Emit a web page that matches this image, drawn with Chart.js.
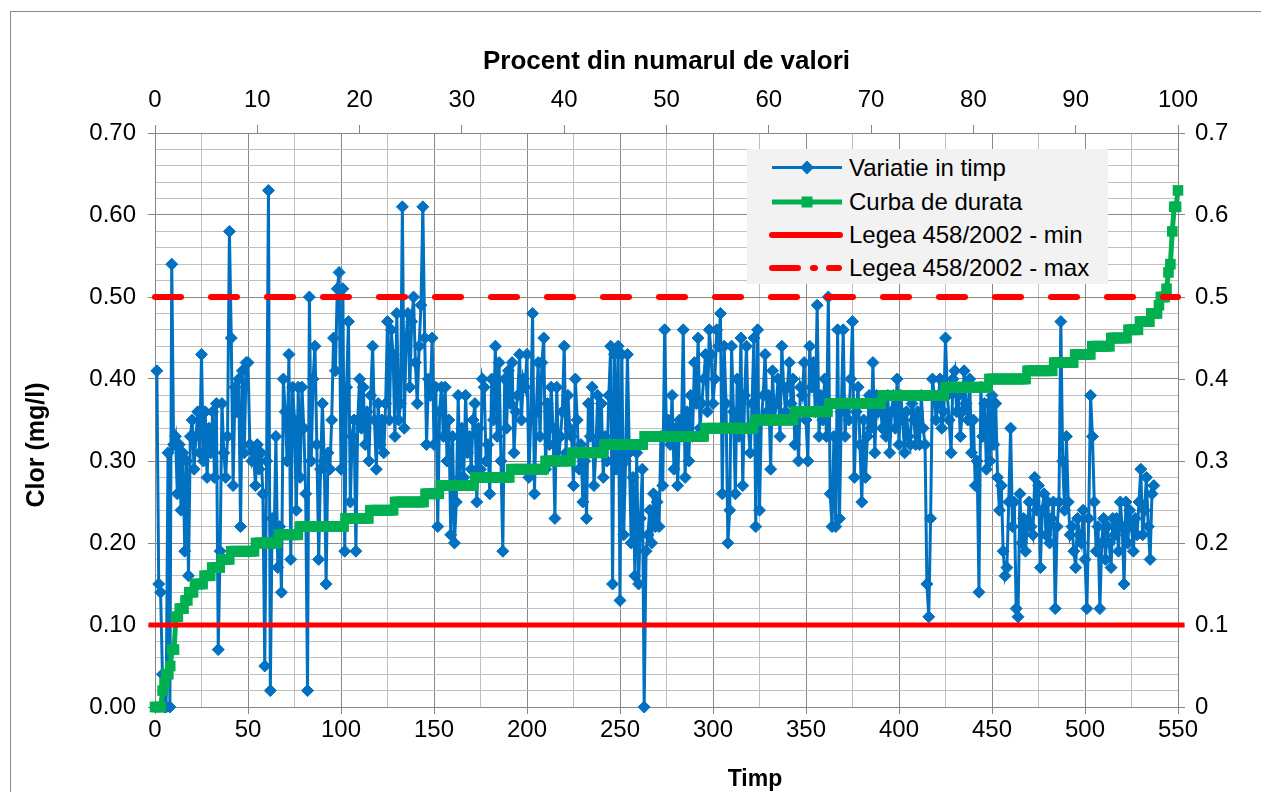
<!DOCTYPE html>
<html>
<head>
<meta charset="utf-8">
<script src="https://cdn.jsdelivr.net/npm/chart.js@4.4.1/dist/chart.umd.min.js"></script>
<style>
  html, body { margin: 0; padding: 0; background: #fff; overflow: hidden; }
  #wrap { position: relative; width: 1261px; height: 792px; font-family: 'Liberation Sans', Arial, sans-serif; }
  #frame { position: absolute; left: 10px; top: 11px; width: 1270px; height: 820px; border: 1.5px solid #8a8a8a; box-sizing: border-box; }
  #c { position: absolute; left: 0; top: 0; }
  #legend { position: absolute; left: 747px; top: 149px; width: 361px; height: 135px; background: #F2F2F2; font-size: 24px; color: #000; }
  #legend svg { position: absolute; left: 0; top: 0; }
  #legend .lt { position: absolute; left: 102px; line-height: 28px; white-space: nowrap; }
  .axt { position: absolute; font-weight: bold; color: #000; white-space: nowrap; line-height: 30px; text-align: center; }
  #xt { left: 655px; top: 763px; width: 200px; font-size: 23px; }
  #yt { left: -65px; top: 430px; width: 200px; font-size: 25px; transform: rotate(-90deg); transform-origin: 100px 15px; }
</style>
</head>
<body>
<div id="wrap">
  <div id="frame"></div>
  <canvas id="c" width="1261" height="792"></canvas>
  <div id="legend">
    <svg width="361" height="135">
      <line x1="25" y1="18.5" x2="95" y2="18.5" stroke="#0070C0" stroke-width="3"/>
      <polygon points="60,11.5 67,18.5 60,25.5 53,18.5" fill="#0070C0"/>
      <line x1="25" y1="53" x2="95" y2="53" stroke="#00B050" stroke-width="5"/>
      <rect x="54.5" y="47.5" width="11" height="11" fill="#00B050"/>
      <line x1="25" y1="86" x2="93" y2="86" stroke="#FF0000" stroke-width="6" stroke-linecap="round"/>
      <line x1="25" y1="119" x2="51" y2="119" stroke="#FF0000" stroke-width="6" stroke-linecap="round"/>
      <line x1="66" y1="119" x2="68" y2="119" stroke="#FF0000" stroke-width="6" stroke-linecap="round"/>
      <line x1="82" y1="119" x2="92" y2="119" stroke="#FF0000" stroke-width="6" stroke-linecap="round"/>
    </svg>
    <div class="lt" style="top:4.5px">Variatie in timp</div>
    <div class="lt" style="top:39px">Curba de durata</div>
    <div class="lt" style="top:72px">Legea 458/2002 - min</div>
    <div class="lt" style="top:105px">Legea 458/2002 - max</div>
  </div>
  <div id="xt" class="axt">Timp</div>
  <div id="yt" class="axt">Clor (mg/l)</div>
</div>
<script>
// ---- data ----
const xTitle = 'Timp';
const x2Title = 'Procent din numarul de valori';
const yTitle = 'Clor (mg/l)';

// Variatie in timp: one value per time step (1..537)
const variatieInTimp = [
  0.41,0.15,0.14,0.04,0.00,0.00,0.31,0.00,0.54,0.32,
  0.33,0.26,0.32,0.24,0.31,0.19,0.30,0.16,0.33,0.35,
  0.29,0.33,0.36,0.31,0.43,0.30,0.36,0.28,0.34,0.31,
  0.36,0.28,0.37,0.07,0.19,0.37,0.31,0.28,0.33,0.58,
  0.45,0.27,0.39,0.36,0.40,0.22,0.41,0.31,0.42,
  0.42,0.32,0.30,0.31,0.27,0.32,0.29,0.31,0.26,0.05,
  0.30,0.63,0.02,0.23,0.20,0.33,0.17,0.22,0.14,0.40,
  0.36,0.30,0.43,0.18,0.39,0.35,0.24,0.39,0.28,0.39,
  0.34,0.26,0.02,0.50,0.30,0.40,0.44,0.32,0.18,0.29,
  0.37,0.30,0.15,0.31,0.29,0.35,0.45,0.41,0.51,
  0.53,0.29,0.51,0.19,0.39,0.47,0.25,0.33,0.35,0.19,
  0.35,0.40,0.34,0.39,0.32,0.36,0.30,0.38,0.44,0.35,
  0.29,0.37,0.32,0.35,0.31,0.37,0.47,0.35,0.46,0.43,
  0.33,0.48,0.35,0.37,0.61,0.34,0.45,0.48,0.39,0.47,
  0.50,0.42,0.37,0.44,0.49,0.61,0.45,0.32,0.40,0.38,
  0.45,0.32,0.39,0.22,0.36,0.39,0.33,0.39,0.30,0.35,
  0.21,0.33,0.20,0.25,0.38,0.28,0.34,0.28,0.38,0.31,
  0.33,0.29,0.35,0.37,0.25,0.34,0.29,0.40,0.39,0.30,
  0.32,0.26,0.40,0.35,0.44,0.33,0.42,0.30,0.19,0.40,
  0.34,0.41,0.37,0.42,0.31,0.36,0.38,0.43,0.35,0.40,
  0.39,0.43,0.28,0.35,0.48,0.26,0.36,0.42,0.33,0.42,
  0.45,0.29,0.37,0.32,0.39,0.34,0.23,0.39,0.30,0.33,
  0.36,0.44,0.31,0.38,0.34,0.33,0.27,0.40,0.35,0.29,
  0.32,0.25,0.30,0.23,0.37,0.33,0.39,0.27,0.31,0.38,
  0.32,0.37,0.28,0.33,0.30,0.38,0.44,0.15,0.43,0.29,
  0.44,0.13,0.43,0.21,0.30,0.43,0.31,0.20,0.28,0.16,
  0.31,0.15,0.23,0.29,0.00,0.19,0.21,0.24,0.20,0.26,
  0.22,0.25,0.22,0.33,0.27,0.46,0.33,0.35,0.32,0.38,
  0.29,0.34,0.27,0.35,0.33,0.46,0.28,0.36,0.30,0.38,
  0.33,0.42,0.37,0.45,0.34,0.37,0.40,0.43,0.36,0.46,
  0.43,0.37,0.40,0.46,0.44,0.48,0.26,0.44,0.37,0.20,
  0.24,0.44,0.36,0.26,0.40,0.33,0.45,0.27,0.38,0.44,
  0.34,0.31,0.37,0.45,0.22,0.46,0.24,0.35,0.38,0.43,
  0.36,0.38,0.29,0.41,0.35,0.37,0.40,0.33,0.44,0.39,
  0.36,0.39,0.42,0.37,0.40,0.32,0.36,0.30,0.39,0.38,
  0.42,0.35,0.30,0.44,0.39,0.42,0.36,0.49,0.33,0.38,
  0.35,0.40,0.33,0.50,0.26,0.22,0.33,0.22,0.46,0.23,
  0.36,0.46,0.33,0.37,0.35,0.40,0.47,0.28,0.36,0.39,
  0.32,0.25,0.35,0.28,0.33,0.38,0.34,0.42,0.31,0.38,
  0.36,0.37,0.34,0.36,0.33,0.38,0.31,0.36,0.38,0.34,
  0.40,0.32,0.38,0.35,0.31,0.36,0.33,0.32,0.37,0.35,
  0.32,0.36,0.32,0.38,0.34,0.32,0.15,0.11,0.23,0.40,
  0.38,0.35,0.37,0.40,0.34,0.36,0.45,0.38,0.35,0.31,
  0.40,0.41,0.36,0.38,0.33,0.36,0.41,0.37,0.35,0.40,
  0.31,0.35,0.27,0.30,0.14,0.39,0.33,0.37,0.29,0.37,
  0.30,0.38,0.32,0.37,0.28,0.24,0.27,0.19,0.16,0.17,
  0.25,0.34,0.22,0.25,0.12,0.11,0.26,0.20,0.23,0.19,
  0.22,0.25,0.22,0.21,0.28,0.24,0.27,0.17,0.24,0.26,
  0.21,0.25,0.20,0.23,0.25,0.12,0.22,0.25,0.47,0.30,
  0.24,0.33,0.25,0.21,0.22,0.19,0.17,0.23,0.21,0.20,
  0.24,0.18,0.12,0.23,0.38,0.33,0.25,0.19,0.22,0.12,
  0.20,0.23,0.18,0.22,0.20,0.17,0.23,0.21,0.23,0.19,
  0.25,0.22,0.15,0.25,0.20,0.24,0.22,0.19,0.23,0.21,
  0.25,0.29,0.21,0.24,0.28,0.22,0.18,0.26,0.27
];

// Curba de durata: values in increasing order, spread over 0..100 % (top axis)
const curbaDeDurata = [
  0.00,0.00,0.00,0.00,0.02,0.03,0.04,0.04,0.05,0.07,0.07,
  0.11,0.11,0.12,0.12,0.12,0.13,0.13,0.14,0.14,0.14,
  0.15,0.15,0.15,0.15,0.15,
  0.16,0.16,0.16,0.16,
  0.17,0.17,0.17,0.17,0.17,
  0.18,0.18,0.18,0.18,0.18,
  0.19,0.19,0.19,0.19,0.19,0.19,0.19,0.19,0.19,0.19,0.19,0.19,0.19,
  0.20,0.20,0.20,0.20,0.20,0.20,0.20,0.20,0.20,0.20,0.20,0.20,
  0.21,0.21,0.21,0.21,0.21,0.21,0.21,0.21,0.21,0.21,0.21,
  0.22,0.22,0.22,0.22,0.22,0.22,0.22,0.22,0.22,0.22,0.22,0.22,
  0.22,0.22,0.22,0.22,0.22,0.22,0.22,0.22,0.22,0.22,0.22,0.22,
  0.23,0.23,0.23,0.23,0.23,0.23,0.23,0.23,0.23,0.23,0.23,0.23,0.23,
  0.24,0.24,0.24,0.24,0.24,0.24,0.24,0.24,0.24,0.24,0.24,0.24,0.24,
  0.25,0.25,0.25,0.25,0.25,0.25,0.25,0.25,
  0.25,0.25,0.25,0.25,0.25,0.25,0.25,0.25,
  0.26,0.26,0.26,0.26,0.26,0.26,0.26,0.26,
  0.27,0.27,0.27,0.27,0.27,0.27,0.27,0.27,0.27,
  0.27,0.27,0.27,0.27,0.27,0.27,0.27,0.27,0.27,
  0.28,0.28,0.28,0.28,0.28,0.28,0.28,0.28,0.28,0.28,
  0.28,0.28,0.28,0.28,0.28,0.28,0.28,0.28,0.28,
  0.29,0.29,0.29,0.29,0.29,0.29,0.29,0.29,0.29,
  0.29,0.29,0.29,0.29,0.29,0.29,0.29,0.29,0.29,
  0.30,0.30,0.30,0.30,0.30,0.30,0.30,
  0.30,0.30,0.30,0.30,0.30,0.30,0.30,
  0.31,0.31,0.31,0.31,0.31,0.31,0.31,0.31,0.31,
  0.31,0.31,0.31,0.31,0.31,0.31,0.31,0.31,
  0.32,0.32,0.32,0.32,0.32,0.32,0.32,0.32,0.32,0.32,0.32,
  0.32,0.32,0.32,0.32,0.32,0.32,0.32,0.32,0.32,0.32,
  0.33,0.33,0.33,0.33,0.33,0.33,0.33,0.33,0.33,0.33,0.33,
  0.33,0.33,0.33,0.33,0.33,0.33,0.33,0.33,0.33,0.33,0.33,
  0.33,0.33,0.33,0.33,0.33,0.33,0.33,0.33,0.33,0.33,
  0.34,0.34,0.34,0.34,0.34,0.34,0.34,0.34,0.34,0.34,0.34,0.34,0.34,
  0.34,0.34,0.34,0.34,0.34,0.34,0.34,0.34,0.34,0.34,0.34,0.34,0.34,
  0.35,0.35,0.35,0.35,0.35,0.35,0.35,0.35,0.35,0.35,0.35,
  0.35,0.35,0.35,0.35,0.35,0.35,0.35,0.35,0.35,0.35,
  0.36,0.36,0.36,0.36,0.36,0.36,0.36,0.36,0.36,
  0.36,0.36,0.36,0.36,0.36,0.36,0.36,0.36,0.36,
  0.37,0.37,0.37,0.37,0.37,0.37,0.37,0.37,0.37,0.37,0.37,0.37,0.37,0.37,
  0.37,0.37,0.37,0.37,0.37,0.37,0.37,0.37,0.37,0.37,0.37,0.37,0.37,0.37,
  0.38,0.38,0.38,0.38,0.38,0.38,0.38,0.38,0.38,0.38,0.38,
  0.38,0.38,0.38,0.38,0.38,0.38,0.38,0.38,0.38,0.38,0.38,
  0.38,0.38,0.38,0.38,0.38,0.38,0.38,0.38,0.38,0.38,0.38,
  0.39,0.39,0.39,0.39,0.39,0.39,0.39,0.39,0.39,0.39,0.39,0.39,
  0.39,0.39,0.39,0.39,0.39,0.39,0.39,0.39,0.39,0.39,0.39,
  0.40,0.40,0.40,0.40,0.40,0.40,0.40,0.40,0.40,0.40,
  0.40,0.40,0.40,0.40,0.40,0.40,0.40,0.40,0.40,0.40,
  0.41,0.41,0.41,0.41,0.41,0.41,0.41,0.41,0.41,0.41,0.41,0.41,0.41,0.41,
  0.42,0.42,0.42,0.42,0.42,0.42,0.42,0.42,0.42,0.42,0.42,
  0.43,0.43,0.43,0.43,0.43,0.43,0.43,0.43,0.43,
  0.44,0.44,0.44,0.44,0.44,0.44,0.44,0.44,0.44,0.44,
  0.45,0.45,0.45,0.45,0.45,0.45,0.45,0.45,0.45,
  0.46,0.46,0.46,0.46,0.46,0.46,
  0.47,0.47,0.47,0.47,0.47,0.47,
  0.48,0.48,0.48,0.48,
  0.49,0.50,0.50,0.50,0.51,0.53,0.54,0.58,0.61,0.61,0.63
];

// Limits from Legea 458/2002
const limitaMin = 0.10;
const limitaMax = 0.50;

// axis ranges
const xRange = [0, 550];
const x2Range = [0, 100];
const yRange = [0, 0.7];

// ---- chart ----
const MAJOR = '#888888';
const MINOR = '#C0C0C0';
const AXIS = '#868686';
const isTenth = v => Math.abs(v * 10 - Math.round(v * 10)) < 1e-6;

const blueData = variatieInTimp.map((v, i) => ({ x: i + 1, y: v }));
const greenData = curbaDeDurata.map((v, i) => ({ x: i * 100 / (curbaDeDurata.length - 1), y: v }));

Chart.defaults.font.family = "'Liberation Sans', Arial, sans-serif";
Chart.defaults.color = '#000';

new Chart(document.getElementById('c'), {
  type: 'line',
  data: {
    datasets: [
      { label: 'Variatie in timp', data: blueData, xAxisID: 'x', yAxisID: 'y',
        borderColor: '#0070C0', backgroundColor: '#0070C0', borderWidth: 3,
        pointStyle: 'rectRot', pointRadius: 6, pointBorderWidth: 1, pointBorderColor: '#0070C0',
        tension: 0, clip: false, order: 3 },
      { label: 'Curba de durata', data: greenData, xAxisID: 'x2', yAxisID: 'y',
        borderColor: '#00B050', backgroundColor: '#00B050', borderWidth: 5,
        pointStyle: 'rect', pointRadius: 7.5, pointBorderWidth: 0,
        tension: 0, clip: false, order: 2 },
      { label: 'Legea 458/2002 - min', data: [{ x: xRange[0] - 3.5, y: limitaMin }, { x: xRange[1] + 3.5, y: limitaMin }],
        xAxisID: 'x', yAxisID: 'y', borderColor: '#FF0000', borderWidth: 5, pointRadius: 0, clip: false, order: 1 },
      { label: 'Legea 458/2002 - max', data: [{ x: xRange[0], y: limitaMax }, { x: xRange[1], y: limitaMax }],
        xAxisID: 'x', yAxisID: 'y', borderColor: '#FF0000', borderWidth: 6, borderDash: [26, 30],
        borderCapStyle: 'round', pointRadius: 0, clip: false, order: 0 }
    ]
  },
  options: {
    responsive: false,
    animation: false,
    events: [],
    layout: { padding: 0 },
    plugins: { legend: { display: false }, tooltip: { enabled: false } },
    scales: {
      x: {
        type: 'linear', position: 'bottom', min: xRange[0], max: xRange[1],
        afterFit: s => { s.height = 85; },
        ticks: { stepSize: 25, autoSkip: false, maxRotation: 0, font: { size: 24 }, padding: 2,
          callback: v => (v % 50 === 0 ? String(v) : '') },
        grid: { color: c => (c.tick && c.tick.value % 50 === 0 ? MAJOR : MINOR), lineWidth: 1, tickLength: 7,
          tickColor: c => (c.tick && c.tick.value % 50 === 0 ? AXIS : 'rgba(0,0,0,0)') },
        border: { display: true, color: AXIS, width: 1 },
        title: { display: false, text: xTitle }
      },
      x2: {
        type: 'linear', position: 'top', min: x2Range[0], max: x2Range[1],
        afterFit: s => { s.height = 133; },
        ticks: { stepSize: 10, autoSkip: false, maxRotation: 0, font: { size: 24 }, padding: 10 },
        grid: { drawOnChartArea: false, tickLength: 8, tickColor: AXIS },
        border: { display: true, color: AXIS, width: 1 },
        title: { display: true, text: x2Title, font: { size: 26, weight: 'bold' }, padding: { top: 46, bottom: 0 } }
      },
      y: {
        type: 'linear', position: 'left', min: yRange[0], max: yRange[1],
        afterFit: s => { s.width = 155; },
        ticks: { stepSize: 0.02, autoSkip: false, font: { size: 24 }, padding: 12,
          callback: v => (isTenth(v) ? v.toFixed(2) : '') },
        grid: { color: c => (c.tick && isTenth(c.tick.value) ? MAJOR : MINOR), lineWidth: 1, tickLength: 7,
          tickColor: c => (c.tick && isTenth(c.tick.value) ? AXIS : 'rgba(0,0,0,0)') },
        border: { display: true, color: AXIS, width: 1 },
        title: { display: false, text: yTitle }
      },
      y2: {
        type: 'linear', position: 'right', min: yRange[0], max: yRange[1],
        afterFit: s => { s.width = 83; },
        ticks: { stepSize: 0.1, autoSkip: false, font: { size: 24 }, padding: 10,
          callback: v => (Math.abs(v) < 1e-9 ? '0' : v.toFixed(1)) },
        grid: { drawOnChartArea: false, tickLength: 7, tickColor: AXIS },
        border: { display: true, color: AXIS, width: 1 }
      }
    }
  }
});
</script>
</body>
</html>
